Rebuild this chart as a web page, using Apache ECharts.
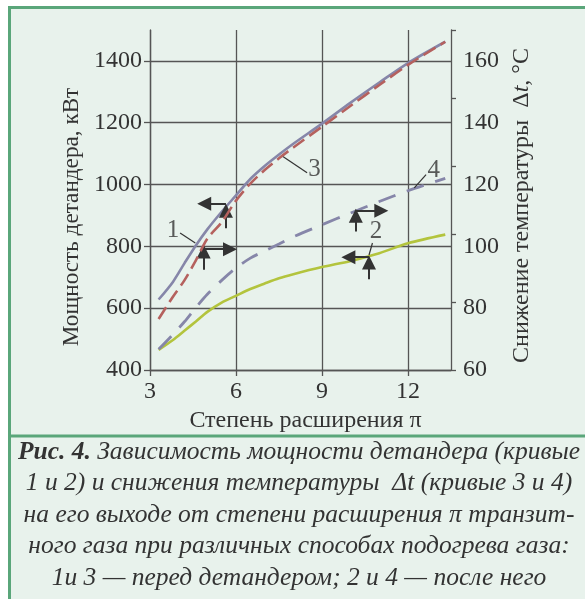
<!DOCTYPE html>
<html>
<head>
<meta charset="utf-8">
<script src="https://cdn.jsdelivr.net/npm/echarts@6/dist/echarts.min.js"></script>
<style>
html,body{margin:0;padding:0;background:#fff;}
#c{width:585px;height:599px;}
</style>
</head>
<body>
<div id="c"></div>
<script>
// ---- data ----
const piX = [3.3, 3.8, 4.2, 4.6, 5.0, 5.5, 6.0, 6.5, 7.0, 7.5, 8.0, 9.0, 10.0, 11.0, 12.0, 13.3];
const power1 = [628, 685, 745, 803, 855, 912, 965, 1018, 1060, 1097, 1132, 1197, 1265, 1330, 1393, 1462];
const power2 = [465, 497, 527, 557, 588, 618, 640, 662, 680, 697, 710, 733, 753, 778, 810, 838];
const dT3 = [76.5, 83.7, 89, 95.5, 102.5, 107.8, 114.8, 120.3, 124.7, 128.5, 132, 138.7, 145.5, 152.2, 158.7, 166.2];
const dT4 = [66.7, 71.5, 75.6, 80.2, 84.5, 89, 93, 96.2, 98.5, 100.8, 103.1, 107, 110.8, 114.5, 118, 122];
const xTicks = [3, 6, 9, 12];
const powerTicks = [400, 600, 800, 1000, 1200, 1400];
const tempTicks = [60, 80, 100, 120, 140, 160];
// annotation anchors in data units (x = π, y = kW on left axis)
const curveNames = [['1', 3.80, 850], ['2', 10.88, 848], ['3', 8.74, 1048], ['4', 12.9, 1045]];
const leaders = [[[4.05, 843], [4.58, 811]], [[10.76, 811], [10.64, 772]], [[7.61, 1092], [8.48, 1038]], [[12.22, 989], [12.63, 1032]]];
const arrows = [
  [[5.65, 938], [4.89, 938]], [[5.65, 859], [5.65, 915]],
  [[4.87, 724], [4.87, 783]], [[4.87, 791], [5.79, 791]],
  [[10.18, 848], [10.18, 899]], [[10.18, 915], [11.07, 915]],
  [[10.64, 765], [9.92, 765]], [[10.64, 694], [10.64, 748]]
];
const captionLines = [
  '{b|Рис. 4.} Зависимость мощности детандера (кривые',
  '1 и 2) и снижения температуры  Δt (кривые 3 и 4)',
  'на его выходе от степени расширения π транзит-',
  'ного газа при различных способах подогрева газа:',
  '1и 3 — перед детандером; 2 и 4 — после него'
];

const SERIF = '"Liberation Serif", "DejaVu Serif", serif';
const INK = '#333333';
const GRIDC = '#555555';
const PURPLE = '#8686a9';
const RED = '#b5615e';
const GREEN = '#b3c43d';

const chart = echarts.init(document.getElementById('c'), null, {renderer: 'canvas'});
const pair = (xs, ys) => xs.map((x, i) => [x, ys[i]]);
const plain = v => String(v);

const captionGraphics = captionLines.map((t, i) => ({
  type: 'text', x: 299, y: 452 + i * 31.5, z: 10,
  style: {
    text: t, x: 0, y: 0, align: 'center', verticalAlign: 'middle',
    font: 'italic 25.5px ' + SERIF, fill: INK,
    rich: {b: {font: 'italic bold 25.5px ' + SERIF, fill: INK}}
  }
}));

const option = {
  animation: false,
  backgroundColor: '#ffffff',
  graphic: [
    {type: 'rect', z: -10, silent: true, shape: {x: 9.5, y: 7.5, width: 640, height: 640},
     style: {fill: '#e8f2ec', stroke: '#5aa67a', lineWidth: 3}},
    {type: 'line', z: -9, silent: true, shape: {x1: 9, y1: 436, x2: 600, y2: 436},
     style: {stroke: '#5aa67a', lineWidth: 3}}
  ].concat(captionGraphics),
  grid: {left: 150, right: 134, top: 30, bottom: 229, containLabel: false},
  xAxis: {
    type: 'value', min: 3, max: 13.5, interval: 3,
    name: 'Степень расширения π', nameLocation: 'middle', nameGap: 22,
    nameTextStyle: {fontFamily: SERIF, fontSize: 24, color: INK, padding: [0, 0, 0, 10]},
    axisLine: {show: true, lineStyle: {color: GRIDC, width: 1.3}},
    axisTick: {show: true, length: 6, customValues: xTicks, lineStyle: {color: GRIDC, width: 1.3}},
    axisLabel: {customValues: xTicks, formatter: plain, margin: 10, fontFamily: SERIF, fontSize: 24, color: INK},
    splitLine: {show: true, lineStyle: {color: GRIDC, width: 1.3}}
  },
  yAxis: [
    {
      type: 'value', position: 'left', min: 400, max: 1500, interval: 200,
      name: 'Мощность детандера, кВт', nameLocation: 'middle', nameGap: 60, nameRotate: 90,
      nameTextStyle: {fontFamily: SERIF, fontSize: 23.2, color: INK, padding: [0, 34, 0, 0]},
      axisLine: {show: true, lineStyle: {color: GRIDC, width: 1.3}},
      axisTick: {show: true, length: 6, customValues: powerTicks, lineStyle: {color: GRIDC, width: 1.3}},
      axisLabel: {customValues: powerTicks, formatter: plain, margin: 8, fontFamily: SERIF, fontSize: 24, color: INK},
      splitLine: {show: true, lineStyle: {color: GRIDC, width: 1.3}}
    },
    {
      type: 'value', position: 'right', min: 60, max: 170, interval: 20,
      name: 'Снижение температуры  Δ{i|t}, °C', nameLocation: 'middle', nameGap: 45, nameRotate: 90,
      nameTextStyle: {fontFamily: SERIF, fontSize: 24, color: INK, padding: [0, 11, 0, 0],
        rich: {i: {fontFamily: SERIF, fontSize: 24, fontStyle: 'italic', color: INK}}},
      axisLine: {show: true, lineStyle: {color: GRIDC, width: 1.3}},
      axisTick: {show: false},
      axisLabel: {customValues: tempTicks, formatter: plain, margin: 12, fontFamily: SERIF, fontSize: 24, color: INK},
      splitLine: {show: false}
    },
    {
      type: 'value', position: 'right', min: 60, max: 160, interval: 20,
      axisLine: {show: false},
      axisTick: {show: true, length: 5, lineStyle: {color: GRIDC, width: 1.3}},
      axisLabel: {show: false},
      splitLine: {show: false}
    }
  ],
  series: [
    {
      name: '2', type: 'line', yAxisIndex: 0, data: pair(piX, power2), smooth: 0.3,
      showSymbol: false, lineStyle: {color: GREEN, width: 2.6}, z: 3,
      markLine: {
        silent: true, animation: false, symbol: ['none', 'triangle'], symbolSize: 14,
        label: {show: false},
        lineStyle: {color: INK, width: 2, type: 'solid'},
        data: arrows.map(a => [{coord: a[0]}, {coord: a[1]}])
          .concat(leaders.map(a => [{coord: a[0], symbol: 'none'}, {coord: a[1], symbol: 'none', lineStyle: {width: 1.2}}]))
      }
    },
    {
      name: '4', type: 'line', yAxisIndex: 1, data: pair(piX, dT4), smooth: 0.3,
      showSymbol: false, lineStyle: {color: PURPLE, width: 2.8, type: [18, 12]}, z: 3
    },
    {
      name: '1', type: 'line', yAxisIndex: 0, data: pair(piX, power1), smooth: 0.3,
      showSymbol: false, lineStyle: {color: PURPLE, width: 2.6}, z: 4
    },
    {
      name: '3', type: 'line', yAxisIndex: 1, data: pair(piX, dT3), smooth: 0.3,
      showSymbol: false, lineStyle: {color: RED, width: 2.6, type: [14, 6]}, z: 5
    },
    {
      name: 'labels', type: 'scatter', yAxisIndex: 0, symbolSize: 1,
      itemStyle: {color: 'rgba(0,0,0,0)'},
      data: curveNames.map(n => ({value: [n[1], n[2]], name: n[0]})),
      label: {show: true, position: 'inside', formatter: p => p.name,
        fontFamily: SERIF, fontSize: 25, color: INK}
    }
  ]
};
chart.setOption(option);
</script>
</body>
</html>
